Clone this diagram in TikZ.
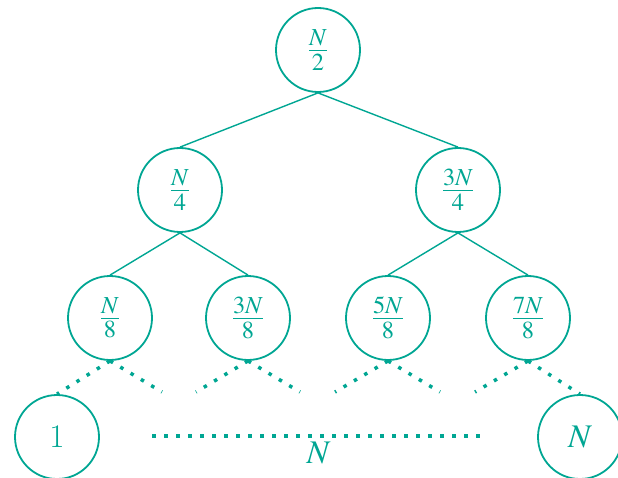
\documentclass[tikz,border=0pt]{standalone}
\usepackage{mathptmx}
\definecolor{treeteal}{RGB}{0,166,147}
\tikzset{
  bucket/.style={circle, draw, line width=1.8pt, minimum size=84pt, inner sep=0pt},
  split/.style={line width=1.4pt},
  gap/.style={line width=3.5pt, dash pattern=on 3.5pt off 8.5pt},
}

\begin{document}
\begin{tikzpicture}[x=1pt, y=-1pt, color=treeteal,
    font=\fontsize{33}{38}\selectfont]
  \useasboundingbox (0,0) rectangle (618,478);
  \clip (0,0) rectangle (618,478);
  % the tree
  \node[bucket] (root) at (318,50) {$\frac{N}{2}$};
  \node[bucket] (l) at (180,190) {$\frac{N}{4}$};
  \node[bucket] (r) at (458,190) {$\frac{3N}{4}$};
  \node[bucket] (ll) at (110,318) {$\frac{N}{8}$};
  \node[bucket] (lr) at (248,318) {$\frac{3N}{8}$};
  \node[bucket] (rl) at (388,318) {$\frac{5N}{8}$};
  \node[bucket] (rr) at (528,318) {$\frac{7N}{8}$};
  \draw[split] (root.south) -- (l.north);
  \draw[split] (root.south) -- (r.north);
  \draw[split] (l.south) -- (ll.north);
  \draw[split] (l.south) -- (lr.north);
  \draw[split] (r.south) -- (rl.north);
  \draw[split] (r.south) -- (rr.north);
  % the leaves
  \node[bucket] (first) at (57,437) {1};
  \node[bucket] (last) at (580,437) {$N$};
  \coordinate (d1) at (162,392);
  \coordinate (d2) at (196,392);
  \coordinate (d3) at (300,392);
  \coordinate (d4) at (335,392);
  \coordinate (d5) at (440,392);
  \coordinate (d6) at (475,392);
  \draw[gap] (ll.south) -- (first.north);
  \draw[gap] (ll.south) -- (d1);
  \draw[gap] (lr.south) -- (d2);
  \draw[gap] (lr.south) -- (d3);
  \draw[gap] (rl.south) -- (d4);
  \draw[gap] (rl.south) -- (d5);
  \draw[gap] (rr.south) -- (d6);
  \draw[gap] (rr.south) -- (last.north);
  % the row of leaves
  \coordinate (rowl) at (152,436);
  \coordinate (rowr) at (485,436);
  \draw[gap] (rowl) -- node[below=1pt] (count) {$N$} (rowr);
\end{tikzpicture}
\end{document}
